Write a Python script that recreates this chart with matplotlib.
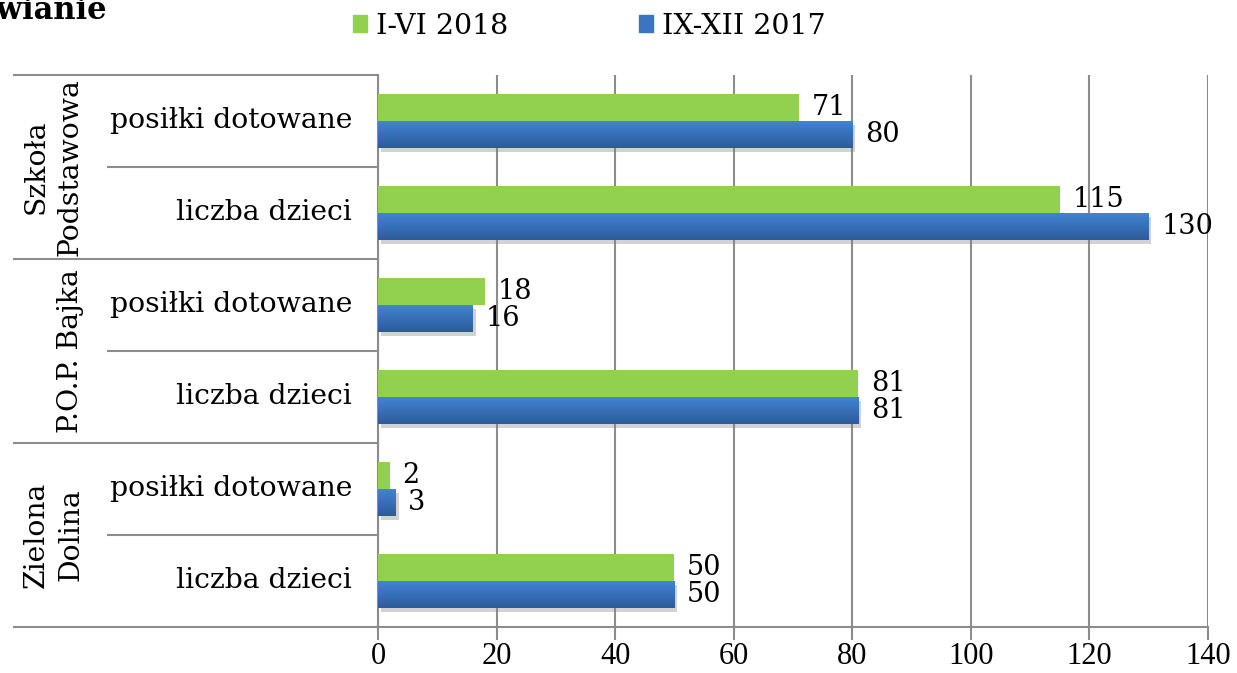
import numpy as np
import matplotlib.pyplot as plt
from matplotlib import patheffects as pe
from matplotlib.patches import Rectangle
from matplotlib.colors import LinearSegmentedColormap
from matplotlib.transforms import blended_transform_factory

groups = ['Szkoła\nPodstawowa', 'P.O.P. Bajka', 'Zielona\nDolina']
items = ['posiłki dotowane', 'liczba dzieci']
series = ['I-VI 2018', 'IX-XII 2017']
i_vi_2018 = [71, 115, 18, 81, 2, 50]
ix_xii_2017 = [80, 130, 16, 81, 3, 50]
xticks = [0, 20, 40, 60, 80, 100, 120, 140]

green = '#92D050'
blue = '#3B74BF'
line_col = '#8c8c8c'

plt.rcParams['font.family'] = 'DejaVu Serif'

fig = plt.figure(figsize=(12.37, 6.73), dpi=100)
W, H = 1237, 673
ax = fig.add_axes([378 / W, 1 - 627 / H, 830 / W, 552 / H])

n = len(i_vi_2018)
ypos = np.arange(n)
bh = 0.29
shadow = [pe.SimplePatchShadow(offset=(2, -3), shadow_rgbFace='gray', alpha=0.35), pe.Normal()]

gbars = ax.barh(ypos - 0.145, i_vi_2018, height=bh, color=green, zorder=3)
bbars = ax.barh(ypos + 0.145, ix_xii_2017, height=bh, color=blue, zorder=3, path_effects=shadow)

# vertical gradient on the blue bars
grad = np.linspace(0, 1, 64).reshape(-1, 1)
bcmap = LinearSegmentedColormap.from_list('b', ['#4283d3', '#2c5c9c'])
for b in bbars:
    x0, y0, w, h = b.get_x(), b.get_y(), b.get_width(), b.get_height()
    im = ax.imshow(grad, extent=(x0, x0 + w, y0 + h, y0), cmap=bcmap, aspect='auto',
                   zorder=4, origin='upper')
    im.set_clip_path(b)

for y, v in zip(ypos, i_vi_2018):
    ax.annotate(str(v), (v, y - 0.145), xytext=(9, 0), textcoords='offset points',
                va='center', ha='left', fontsize=19.5, zorder=5)
for y, v in zip(ypos, ix_xii_2017):
    ax.annotate(str(v), (v, y + 0.145), xytext=(9, 0), textcoords='offset points',
                va='center', ha='left', fontsize=19.5, zorder=5)

ax.set_xlim(0, 140)
ax.set_ylim(n - 0.5, -0.5)
ax.set_xticks(xticks)
ax.set_yticks([])
ax.xaxis.grid(True, color=line_col, linewidth=1.5)
ax.set_axisbelow(True)
ax.tick_params(axis='x', direction='out', length=9, width=1.5, color=line_col, pad=2,
               labelsize=22, labelfontfamily='Liberation Serif')

for s in ['top', 'right', 'bottom']:
    ax.spines[s].set_visible(False)
ax.spines['left'].set_color(line_col)
ax.spines['left'].set_linewidth(1.5)

# hierarchical category axis
tr = blended_transform_factory(ax.transAxes, ax.transData)
x_outer = (14 - 378) / 830
x_inner = (108 - 378) / 830
for yb in [-0.5, 1.5, 3.5]:
    ax.plot([x_outer, 0], [yb, yb], color=line_col, lw=1.5, transform=tr, clip_on=False)
ax.plot([x_outer, 1], [n - 0.5, n - 0.5], color=line_col, lw=1.5, transform=tr, clip_on=False)
for yb in [0.5, 2.5, 4.5]:
    ax.plot([x_inner, 0], [yb, yb], color=line_col, lw=1.5, transform=tr, clip_on=False)

for i, y in enumerate(ypos):
    ax.text((352 - 378) / 830, y, items[i % 2], transform=tr, ha='right', va='center',
            fontsize=20.3)
for g, name in enumerate(groups):
    ax.text((84 - 378) / 830, 2 * g + 0.5, name, transform=tr, rotation=90, ha='right',
            va='center', multialignment='center', fontsize=20.3, linespacing=1.35)

# legend
handles = [Rectangle((0, 0), 1, 1, color=green), Rectangle((0, 0), 1, 1, color=blue)]
fig.legend(handles, series, loc='center', bbox_to_anchor=(589 / W, 1 - 26 / H), ncol=2,
           frameon=False, fontsize=20.5, handlelength=0.5, handleheight=0.5,
           handletextpad=0.3, columnspacing=4.6)

# title, cut off at the left edge as in the source
fig.text(107 / W, 1 - 11 / H, 'Dożywianie', ha='right', va='center', fontsize=22,
         fontweight='bold')

fig.savefig('out.png', dpi=100)
